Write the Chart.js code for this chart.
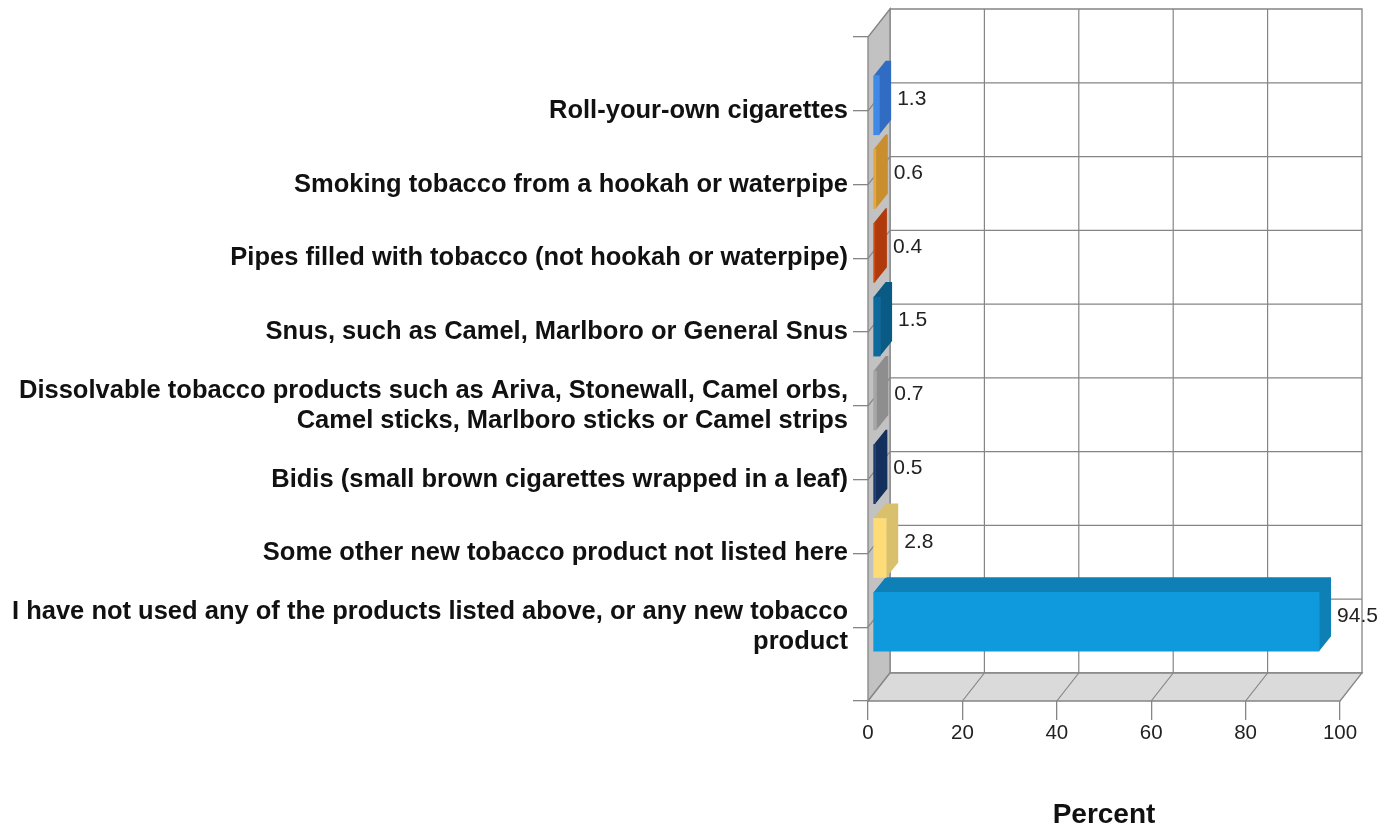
<!DOCTYPE html>
<html><head><meta charset="utf-8">
<style>html,body{margin:0;padding:0;background:#fff}canvas{display:block}</style>
<script src="https://cdn.jsdelivr.net/npm/chart.js@4"></script>
</head><body><canvas id="c" width="1397" height="827"></canvas>
<script>
const categories = ['',
 'Roll-your-own cigarettes',
 'Smoking tobacco from a hookah or waterpipe',
 'Pipes filled with tobacco (not hookah or waterpipe)',
 'Snus, such as Camel, Marlboro or General Snus',
 ['Dissolvable tobacco products such as Ariva, Stonewall, Camel orbs,','Camel sticks, Marlboro sticks or Camel strips'],
 'Bidis (small brown cigarettes wrapped in a leaf)',
 'Some other new tobacco product not listed here',
 ['I have not used any of the products listed above, or any new tobacco','product'],
 ''];
const values = [null,1.3,0.6,0.4,1.5,0.7,0.5,2.8,94.5,null];
const frontColors = ['#000','#3f8ae6','#e6a63c','#cf4a14','#0e6a9c','#a6a6a6','#1c3a6e','#fddc78','#109ade','#000'];
const sideColors  = ['#000','#2f6cc2','#c98f2e','#b03a0c','#0a5a86','#8e8e8e','#14305c','#d8c06c','#0f80b6','#000'];
const xTicks = {min:0,max:100,step:20};

const DX=22,DY=-28, BAR_DX=12,BAR_DY=-15, SHIFT_X=5,SHIFT_Y=-5.5;
const LINE='#858585';

const walls3d={id:'walls3d',
 beforeDatasetsDraw(ch){
  const {ctx}=ch,x=ch.scales.x,y=ch.scales.y;
  const l=x.getPixelForValue(xTicks.min),r=x.getPixelForValue(xTicks.max);
  const t=y.getPixelForValue(0),b=y.getPixelForValue(categories.length-1);
  const poly=(pts,fill)=>{ctx.beginPath();pts.forEach((p,i)=>i?ctx.lineTo(p[0],p[1]):ctx.moveTo(p[0],p[1]));ctx.closePath();
    ctx.fillStyle=fill;ctx.fill();ctx.strokeStyle=LINE;ctx.lineWidth=1.3;ctx.stroke();};
  const line=(a,c,d,e)=>{ctx.beginPath();ctx.moveTo(a,c);ctx.lineTo(d,e);ctx.stroke();};
  ctx.save();
  poly([[l+DX,t+DY],[r+DX,t+DY],[r+DX,b+DY],[l+DX,b+DY]],'#fff');
  poly([[l,t],[l+DX,t+DY],[l+DX,b+DY],[l,b]],'#c2c2c2');
  poly([[l,b],[l+DX,b+DY],[r+DX,b+DY],[r,b]],'#dadada');
  ctx.strokeStyle=LINE;ctx.lineWidth=1.2;
  for(let v=xTicks.min+xTicks.step;v<xTicks.max;v+=xTicks.step){
    const p=x.getPixelForValue(v);
    line(p+DX,t+DY,p+DX,b+DY);line(p,b,p+DX,b+DY);
  }
  for(let i=1;i<categories.length-1;i++){
    const p=y.getPixelForValue(i);
    line(l+DX,p+DY,r+DX,p+DY);line(l,p,l+DX,p+DY);
  }
  ctx.restore();
 },
 beforeDatasetDraw(ch,args){
  const {ctx}=ch,meta=args.meta;
  ctx.save();ctx.translate(SHIFT_X,SHIFT_Y);
  meta.data.forEach((el,i)=>{
    if(values[i]===null)return;
    const x0=el.base,x1=el.x,top=el.y-el.height/2,bot=el.y+el.height/2;
    ctx.fillStyle=sideColors[i];
    ctx.beginPath();ctx.moveTo(x0,top);ctx.lineTo(x0+BAR_DX,top+BAR_DY);ctx.lineTo(x1+BAR_DX,top+BAR_DY);
    ctx.lineTo(x1+BAR_DX,bot+BAR_DY);ctx.lineTo(x1,bot);ctx.lineTo(x1,top);ctx.closePath();ctx.fill();
  });
 },
 afterDatasetDraw(ch){ch.ctx.restore();},
 afterDatasetsDraw(ch){
  const {ctx}=ch,x=ch.scales.x,y=ch.scales.y;
  ctx.save();ctx.font='21px "Liberation Sans"';ctx.fillStyle='#222';ctx.textAlign='left';ctx.textBaseline='middle';
  values.forEach((v,i)=>{ if(v===null)return;
    ctx.fillText(String(v),x.getPixelForValue(v)+SHIFT_X+BAR_DX+6,y.getPixelForValue(i)-11.5);});
  ctx.restore();
 }};

new Chart(document.getElementById('c'),{
 type:'bar',
 data:{labels:categories,datasets:[{data:values,backgroundColor:frontColors,barThickness:59,borderWidth:0,clip:false}]},
 plugins:[walls3d],
 options:{indexAxis:'y',responsive:false,animation:false,
  layout:{padding:{top:37,right:57,left:0,bottom:0}},
  plugins:{legend:{display:false},tooltip:{enabled:false},title:{display:false}},
  scales:{
   y:{type:'category',offset:false,
      afterFit(s){s.width=868;},
      border:{display:false},
      grid:{display:true,offset:false,drawOnChartArea:false,drawTicks:true,tickLength:15,color:LINE,lineWidth:1.3},
      ticks:{autoSkip:false,maxRotation:0,minRotation:0,padding:5,color:'#111',
             font:{family:'"Liberation Sans"',size:25.5,weight:'bold',lineHeight:1.18}}},
   x:{type:'linear',min:xTicks.min,max:xTicks.max,
      afterBuildTicks(s){s.ticks=[];for(let v=xTicks.min;v<=xTicks.max;v+=xTicks.step)s.ticks.push({value:v});},
      afterFit(s){s.height=126;},
      border:{display:false},
      grid:{display:true,drawOnChartArea:false,drawTicks:true,tickLength:19,color:LINE,lineWidth:1.3},
      ticks:{maxRotation:0,padding:1,color:'#222',font:{family:'"Liberation Sans"',size:20.5}},
      title:{display:true,text:'Percent',color:'#111',padding:{top:0,bottom:-5},
             font:{family:'"Liberation Sans"',size:28,weight:'bold'}}}
  }}
});
</script></body></html>
